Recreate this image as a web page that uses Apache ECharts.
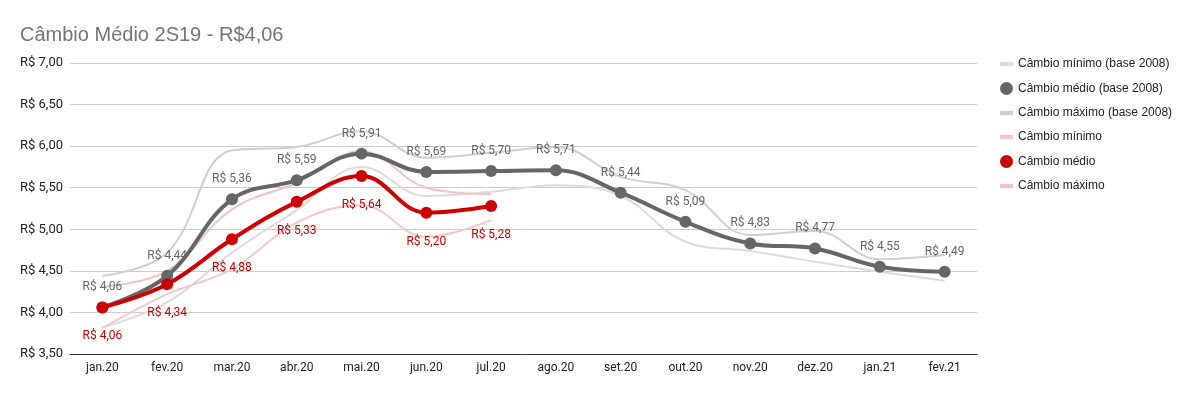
<!DOCTYPE html>
<html>
<head>
<meta charset="utf-8">
<script src="https://cdn.jsdelivr.net/npm/echarts@6/dist/echarts.min.js"></script>
<style>html,body{margin:0;padding:0;background:#fff}#c{width:1196px;height:394px}</style>
</head>
<body>
<div id="c"></div>
<script>
const categories = ['jan.20','fev.20','mar.20','abr.20','mai.20','jun.20','jul.20','ago.20','set.20','out.20','nov.20','dez.20','jan.21','fev.21'];
const min2008 = [3.82, 4.12, 4.72, 5.23, 5.75, 5.40, 5.45, 5.53, 5.40, 4.85, 4.74, 4.61, 4.49, 4.38];
const avg2008 = [4.06, 4.44, 5.36, 5.59, 5.91, 5.69, 5.70, 5.71, 5.44, 5.09, 4.83, 4.77, 4.55, 4.49];
const max2008 = [4.44, 4.72, 5.95, 5.99, 6.18, 5.86, 5.92, 5.99, 5.63, 5.47, 4.93, 4.98, 4.64, 4.69];
const min2020 = [3.81, 4.22, 4.52, 5.08, 5.29, 4.91, 5.11];
const avg2020 = [4.06, 4.34, 4.88, 5.33, 5.64, 5.20, 5.28];
const max2020 = [4.31, 4.50, 5.24, 5.56, 5.94, 5.50, 5.42];
const seriesNames = ['Câmbio mínimo (base 2008)','Câmbio médio (base 2008)','Câmbio máximo (base 2008)','Câmbio mínimo','Câmbio médio','Câmbio máximo'];
const titleText = 'Câmbio Médio 2S19 - R$4,06';

const fmt = v => 'R$ ' + Number(v).toFixed(2).replace('.', ',');
const lineIcon = 'path://M0,0h12v4h-12z';

function thin(name, data, color, z) {
  return {name, type:'line', data, smooth:0.4, showSymbol:false, symbol:'none',
    lineStyle:{width:2, color}, itemStyle:{color}, z, silent:true};
}
function thick(name, data, color, pos) {
  return {name, type:'line', data, smooth:0.4, symbol:'circle', symbolSize:12,
    lineStyle:{width:4, color}, itemStyle:{color}, z:5,
    label:{show:true, position:pos, distance: pos==='top'?8:17, color, fontFamily:'Roboto', fontSize:12,
      formatter:p=>fmt(p.value)}};
}

const chart = echarts.init(document.getElementById('c'));
chart.setOption({
  animation:false,
  title:{text:titleText, left:15, top:20, textStyle:{fontFamily:'Liberation Sans, Arial', fontSize:20, fontWeight:'normal', color:'#757575'}},
  grid:{left:70, right:219, top:63, bottom:40},
  legend:{orient:'vertical', left:995, top:53, itemGap:12, itemWidth:13, itemHeight:13,
    textStyle:{fontFamily:'Liberation Sans, Arial', fontSize:12, color:'#222'},
    data:[
      {name:seriesNames[0], icon:lineIcon},
      {name:seriesNames[1], icon:'circle'},
      {name:seriesNames[2], icon:lineIcon},
      {name:seriesNames[3], icon:lineIcon},
      {name:seriesNames[4], icon:'circle'},
      {name:seriesNames[5], icon:lineIcon}
    ]},
  xAxis:{type:'category', data:categories, boundaryGap:true,
    axisLine:{show:true, lineStyle:{color:'#333', width:1}}, axisTick:{show:false},
    axisLabel:{color:'#222', fontFamily:'Roboto', fontSize:12, margin:8}},
  yAxis:{type:'value', min:3.5, max:7, interval:0.5,
    axisLine:{show:false}, axisTick:{show:false},
    splitLine:{lineStyle:{color:'#cccccc'}},
    axisLabel:{color:'#222', fontFamily:'Roboto', fontSize:13, margin:7, formatter:v=>fmt(v)}},
  series:[
    thin(seriesNames[0], min2008, '#dcdcdc', 1),
    thick(seriesNames[1], avg2008, '#666666', 'top'),
    thin(seriesNames[2], max2008, '#cfcfcf', 1),
    thin(seriesNames[3], min2020, '#f3c8c8', 2),
    thick(seriesNames[4], avg2020, '#cc0000', 'bottom'),
    thin(seriesNames[5], max2020, '#f0c4c4', 2)
  ]
});
</script>
</body>
</html>
